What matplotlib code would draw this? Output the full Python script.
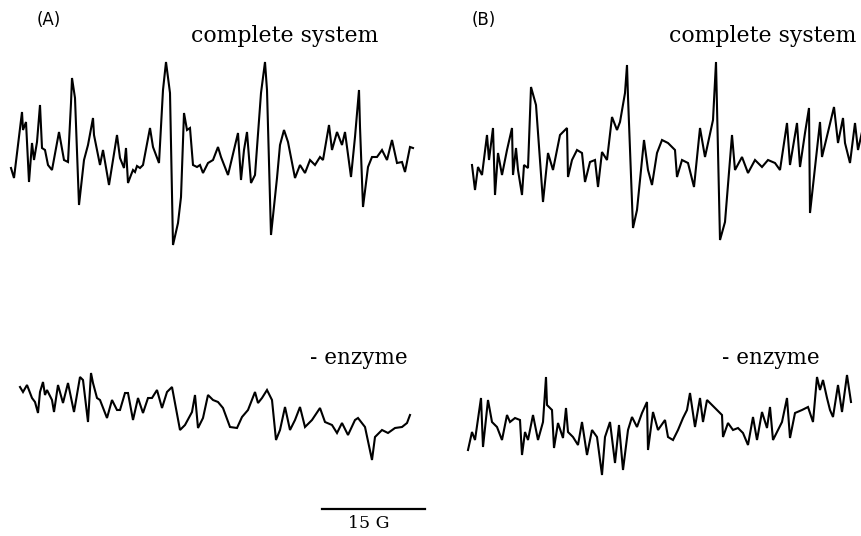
import numpy as np
import matplotlib
matplotlib.use('Agg')
import matplotlib.pyplot as plt

# EPR traces: field position (px along the scan) and signal (px above baseline)
# (A) complete system
a_top_field = [11, 14, 22, 23, 26, 29, 32, 34, 37, 40, 42, 45, 48, 52, 59, 64, 68, 71, 72, 75, 79, 84, 88, 93, 94,
               100, 103, 109, 117, 120, 124, 126, 128, 131, 133, 135, 137, 140, 143, 150, 153, 159, 163, 166, 170,
               173, 178, 181, 184, 187, 190, 193, 197, 200, 203, 208, 213, 218, 221, 228, 238, 241, 244, 247, 251,
               255, 261, 265, 267, 271, 277, 280, 284, 288, 295, 300, 305, 310, 315, 320, 323, 329, 332, 337, 342,
               345, 351, 355, 359, 360, 363, 368, 372, 377, 382, 387, 392, 397, 402, 405, 410, 413]
a_top_signal = [-8, -18, 48, 30, 38, -22, 17, 0, 18, 55, 12, 10, -5, -10, 28, 0, -2, 57, 82, 62, -45, 0, 15, 42, 25,
                -5, 10, -25, 25, 2, -8, 12, -23, -15, -10, -12, -6, -8, -5, 32, 13, -3, 70, 98, 67,
                -85, -63, -37, 47, 30, 32, -5, -7, -5, -13, -3, 0, 13, 3, -15, 27, -20, 10, 28, -23,
                -15, 67, 98, 70, -75, -18, 15, 30, 18, -18, -5, -13, 0, -5, 3, 0, 35, 10, 28, 15,
                28, -17, 23, 70, 33, -47, -7, 3, 3, 10, 0, 20, -3, -2, -12, 13, 12]

# (A) - enzyme
a_bot_field = [20, 23, 27, 32, 35, 38, 40, 43, 45, 47, 52, 54, 58, 63, 68, 74, 80, 83, 88, 91, 93, 97, 100, 107,
               112, 117, 120, 125, 128, 133, 138, 143, 148, 152, 157, 162, 167, 172, 180, 185, 192, 195, 198, 203,
               208, 213, 218, 223, 230, 237, 242, 248, 255, 258, 262, 267, 272, 276, 280, 285, 290, 295, 300, 305,
               312, 320, 325, 332, 337, 342, 348, 355, 358, 365, 372, 375, 382, 388, 395, 402, 407, 410]
a_bot_signal = [28, 23, 30, 17, 13, 2, 23, 33, 20, 25, 15, 3, 30, 12, 32, 3, 38, 35, -7, 42, 32, 17, 15, -3,
                15, 5, 5, 22, 22, -5, 17, 2, 17, 17, 25, 7, 23, 28, -15, -10, 3, 20, -13, -3,
                20, 15, 13, 7, -12, -13, -2, 5, 23, 12, 17, 25, 15, -25, -15, 8, -15, -5, 8, -12,
                -5, 7, -7, -10, -18, -8, -20, -5, -3, -12, -45, -22, -15, -18, -13, -12, -8, 0]

# (B) complete system
b_top_field = [472, 475, 478, 482, 487, 489, 493, 495, 498, 502, 507, 512, 513, 516, 518, 522, 524, 528, 531, 536,
               543, 548, 553, 560, 567, 568, 572, 577, 582, 585, 590, 595, 598, 602, 607, 612, 617, 620, 625, 627,
               628, 633, 637, 644, 648, 652, 657, 662, 668, 675, 677, 682, 688, 694, 700, 705, 713, 716, 720, 725,
               732, 735, 742, 748, 755, 762, 768, 775, 780, 787, 790, 797, 800, 805, 809, 810, 820, 822, 828, 834,
               838, 843, 845, 850, 855, 858, 862]
b_top_signal = [-5, -30, -7, -15, 25, 0, 32, -35, 7, -15, 10, 32, -15, 12, -10, -35, -5, -8, 73, 55,
                -42, 7, -10, 25, 32, -17, 0, 10, 7, -22, -2, 0, -27, 8, 0, 43, 30, 38, 67, 95,
                63, -68, -50, 20, -10, -25, 7, 20, 17, 10, -17, 0, -3, -27, 32, 3, 40, 98, -80, -62,
                25, -10, 3, -13, 0, -7, 0, -3, -10, 37, -5, 37, -7, 27, 52, -53, 38, 3, 28, 53,
                17, 42, 17, -3, 37, 10, 28]

# (B) - enzyme
b_bot_field = [468, 472, 475, 481, 483, 488, 492, 497, 502, 507, 510, 515, 520, 522, 525, 528, 533, 538, 543, 546,
               547, 552, 554, 558, 563, 566, 568, 573, 578, 582, 587, 592, 597, 602, 605, 610, 615, 619, 623, 628,
               632, 637, 642, 647, 648, 653, 658, 665, 668, 673, 678, 683, 687, 690, 695, 700, 703, 707, 712, 717,
               722, 723, 728, 733, 738, 743, 748, 753, 757, 762, 767, 770, 773, 778, 782, 787, 790, 795, 802, 808,
               813, 817, 820, 823, 827, 830, 833, 838, 842, 847, 851]
b_bot_signal = [-35, -17, -25, 17, -32, 15, -7, -12, -25, 0, -7, -3, -5, -40, -17, -25, 0, -25, -7, 38,
                10, 5, -33, -8, -23, 7, -17, -22, -30, -7, -40, -15, -22, -60, -22, -7, -48, -10, -55, -15,
                -2, -12, 2, 13, -35, 3, -15, -5, -22, -25, -15, -3, 5, 22, -12, 17, -7, 15, 10, 5,
                0, -22, -8, -15, -13, -18, -30, -2, -25, 3, -13, 8, -25, -15, -7, 17, -23, 2, 5, 8,
                -7, 38, 25, 35, 17, 5, -2, 30, 3, 40, 13]

top_base = 160
bot_base = 415

fig = plt.figure(figsize=(8.62, 5.36), dpi=100)
ax = fig.add_axes([0, 0, 1, 1])
ax.set_xlim(0, 862)
ax.set_ylim(536, 0)
ax.axis('off')

traces = [(a_top_field, a_top_signal, top_base), (a_bot_field, a_bot_signal, bot_base),
          (b_top_field, b_top_signal, top_base), (b_bot_field, b_bot_signal, bot_base)]
for field, signal, base in traces:
    ax.plot(field, base - np.array(signal), color='black', lw=1.5, solid_joinstyle='miter')

# labels
ax.text(49, 20, '(A)', fontsize=12, family='DejaVu Sans', ha='center', va='center')
ax.text(484, 20, '(B)', fontsize=12, family='DejaVu Sans', ha='center', va='center')
ax.text(285, 36, 'complete system', fontsize=15.8, family='DejaVu Serif', ha='center', va='center')
ax.text(763, 36, 'complete system', fontsize=15.8, family='DejaVu Serif', ha='center', va='center')
ax.text(359, 358, '- enzyme', fontsize=15.5, family='DejaVu Serif', ha='center', va='center')
ax.text(771, 358, '- enzyme', fontsize=15.5, family='DejaVu Serif', ha='center', va='center')

# scale bar
ax.plot([322, 425], [509, 509], color='black', lw=1.6)
ax.text(369, 524, '15 G', fontsize=12.5, family='DejaVu Serif', ha='center', va='center')

fig.savefig('out.png', dpi=100)
